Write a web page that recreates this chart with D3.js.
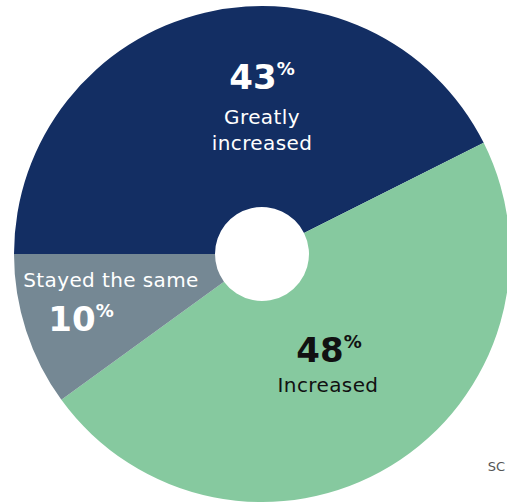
<!DOCTYPE html>
<html>
<head>
<meta charset="utf-8">
<script src="https://cdn.jsdelivr.net/npm/d3@7"></script>
<style>
  html, body { margin: 0; padding: 0; background: #fff; overflow: hidden; }
  #vis { width: 507px; height: 503px; }
  text { font-family: "DejaVu Sans", "Open Sans", sans-serif; }
</style>
</head>
<body>
<div id="vis"></div>
<script>
// data
const categories = ['Greatly increased', 'Increased', 'Stayed the same']
const values = [42.6, 47.4, 10.0]
const shownPct = ['43', '48', '10']
const colors = ['#132e63', '#86c99f', '#758894']

const width = 507
const height = 503
const cx = 262, cy = 254
const outerR = 248, innerR = 47

const svg = d3.select('#vis').append('svg')
    .attr('width', width)
    .attr('height', height)

const g = svg.append('g')
    .attr('transform', `translate(${cx}, ${cy})`)

// start at 9 o'clock, go clockwise
const pie = d3.pie()
    .sort(null)
    .startAngle(-Math.PI / 2)
    .endAngle(Math.PI * 1.5)
    .value(d => d)

const arc = d3.arc()
    .innerRadius(innerR)
    .outerRadius(outerR)

const arcs = pie(values)

g.selectAll('.slice')
    .data(arcs)
    .join('path')
    .attr('class', 'slice')
    .attr('d', arc)
    .attr('fill', (d, i) => colors[i])

// label layout per slice (offsets from centre, not data)
const labels = [
    { pct: [0, -165], name: ['Greatly', 'increased'], nameY: -130, nameX: 0, fill: '#fff' },
    { pct: [67, 108], name: ['Increased'], nameY: 138, nameX: 66, fill: '#111' },
    { pct: [-181, 77], name: ['Stayed the same'], nameY: 33, nameX: -151, fill: '#fff' }
]

labels.forEach((l, i) => {
    const t = g.append('text')
        .attr('x', l.pct[0])
        .attr('y', l.pct[1])
        .attr('text-anchor', 'middle')
        .attr('fill', l.fill)
    t.append('tspan')
        .attr('font-size', 34)
        .attr('font-weight', 'bold')
        .text(shownPct[i])
    t.append('tspan')
        .attr('font-size', 18)
        .attr('font-weight', 'bold')
        .attr('dy', -14)
        .text('%')

    g.append('text')
        .attr('x', l.nameX)
        .attr('y', l.nameY)
        .attr('text-anchor', 'middle')
        .attr('fill', l.fill)
        .attr('font-size', 20)
        .attr('letter-spacing', 0.4)
        .selectAll('tspan')
        .data(l.name)
        .join('tspan')
        .attr('x', l.nameX)
        .attr('dy', (d, j) => j === 0 ? 0 : 26)
        .text(d => d)
})

svg.append('text')
    .attr('x', 505)
    .attr('y', 471)
    .attr('text-anchor', 'end')
    .attr('fill', '#555')
    .attr('font-size', 13)
    .text('SC')
</script>
</body>
</html>
